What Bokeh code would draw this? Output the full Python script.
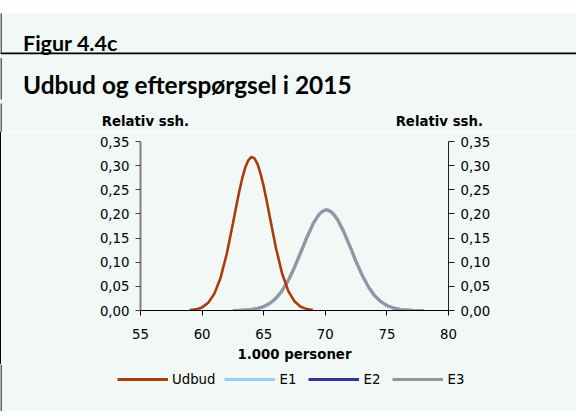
from bokeh.plotting import figure
from bokeh.layouts import column, row
from bokeh.models import (Range1d, LinearAxis, FixedTicker, CustomJSTickFormatter,
                          Legend, LegendItem, Div)
from bokeh.core.properties import value
from bokeh.embed import file_html
from bokeh.resources import INLINE

# ---- data ----
x_udbud = [59.0, 59.5, 60.0, 60.5, 61.0, 61.5, 62.0, 62.5, 62.75, 63.0, 63.25, 63.5,
           63.75, 64.0, 64.25, 64.5, 64.75, 65.0, 65.25, 65.5, 66.0, 66.5, 67.0,
           67.5, 68.0, 68.5, 69.0]
udbud = [0.0007, 0.0023, 0.0064, 0.016, 0.035, 0.068, 0.117, 0.180, 0.213, 0.245, 0.273, 0.296,
         0.311, 0.318, 0.315, 0.303, 0.283, 0.257, 0.226, 0.193, 0.129, 0.076, 0.040,
         0.019, 0.0078, 0.0029, 0.001]

x_eft = [62.5, 63.0, 63.5, 64.0, 64.5, 65.0, 65.5, 66.0, 66.5, 67.0, 67.5, 68.0,
         68.5, 69.0, 69.25, 69.5, 69.75, 70.0, 70.25, 70.5, 70.75, 71.0, 71.5, 72.0,
         72.5, 73.0, 73.5, 74.0, 74.5, 75.0, 75.5, 76.0, 76.5, 77.0, 77.5, 78.0]
e1 = [0.0002, 0.0004, 0.0009, 0.0020, 0.0041, 0.0081, 0.0148, 0.0254, 0.0412, 0.0626, 0.0894, 0.120,
      0.151, 0.179, 0.190, 0.199, 0.205, 0.208, 0.2074, 0.204, 0.197, 0.188, 0.163, 0.133,
      0.101, 0.0727, 0.049, 0.031, 0.0185, 0.0103, 0.0054, 0.0027, 0.0012, 0.0005, 0.0002, 0.0001]
e2 = [0.0002, 0.0004, 0.0009, 0.0020, 0.0041, 0.0081, 0.0148, 0.0254, 0.0412, 0.0626, 0.0894, 0.120,
      0.151, 0.179, 0.190, 0.199, 0.205, 0.208, 0.2074, 0.204, 0.197, 0.188, 0.163, 0.133,
      0.101, 0.0727, 0.049, 0.031, 0.0185, 0.0103, 0.0054, 0.0027, 0.0012, 0.0005, 0.0002, 0.0001]
e3 = [0.0002, 0.0004, 0.0009, 0.0020, 0.0041, 0.0081, 0.0148, 0.0254, 0.0412, 0.0626, 0.0894, 0.120,
      0.151, 0.179, 0.190, 0.199, 0.205, 0.208, 0.2074, 0.204, 0.197, 0.188, 0.163, 0.133,
      0.101, 0.0727, 0.049, 0.031, 0.0185, 0.0103, 0.0054, 0.0027, 0.0012, 0.0005, 0.0002, 0.0001]

x_ticks = [55, 60, 65, 70, 75, 80]
y_ticks = [0.0, 0.05, 0.10, 0.15, 0.20, 0.25, 0.30, 0.35]

series_names = ["Udbud", "E1", "E2", "E3"]
series_colors = ["#aa3c0c", "#99ccff", "#333399", "#969696"]

fig_title = "Figur 4.4c"
chart_title = "Udbud og efterspørgsel i 2015"
y_title = "Relativ ssh."
x_title = "1.000 personer"

# ---- styling ----
BG = "#f1f8f5"
TICK_FONT = "DejaVu Sans"
TITLE_FONT = "Lato"
FS = "13.3px"
W = 576
H_HEAD = 132
H_CHART = 232
H_FOOT = 411 - H_HEAD - H_CHART


def blank(width, height, bg):
    f = figure(width=width, height=height, x_range=Range1d(0, width), y_range=Range1d(height, 0),
               output_backend="svg", toolbar_location=None, min_border=0,
               x_axis_location=None, y_axis_location=None,
               background_fill_color=bg, border_fill_color=bg, outline_line_color=None)
    f.grid.visible = False
    return f


# ---- header (titles, rules, axis captions) ----
head = blank(W, H_HEAD, BG)
head.quad(left=[0], right=[W], top=[0], bottom=[12.7], fill_color="white", line_color=None)
head.segment(x0=[0], y0=[52.8], x1=[W], y1=[52.8], line_color="black", line_width=1.7)
head.segment(x0=[0.5, 0.5, 0.5], y0=[12.7, 57.5, 103], x1=[0.5, 0.5, 0.5], y1=[53, 99, H_HEAD],
             line_color="black", line_width=1.2)
head.text(x=[22.5], y=[42.5], text=[fig_title], text_font=value(TITLE_FONT),
          text_font_size="21.5px", text_font_style="bold", text_color="black",
          text_baseline="alphabetic", text_align="left")
head.text(x=[22.5], y=[83.5], text=[chart_title], text_font=value(TITLE_FONT),
          text_font_size="24.4px", text_font_style="bold", text_color="black",
          text_baseline="alphabetic", text_align="left")
head.text(x=[144.9, 438.8], y=[121, 121], text=[y_title, y_title], text_font=value(TICK_FONT),
          text_font_size=FS, text_font_style="bold", text_color="black",
          text_baseline="middle", text_align="center")

# ---- left border strip next to chart ----
strip = Div(text="", width=1, height=H_CHART,
            styles={"background-color": "black", "margin": "0", "padding": "0"})

# ---- chart ----
p = figure(width=W - 1, height=H_CHART, x_range=Range1d(55, 80), y_range=Range1d(0, 0.35),
           output_backend="svg", toolbar_location=None,
           min_border_left=139, min_border_right=128, min_border_top=9, min_border_bottom=54,
           background_fill_color=BG, border_fill_color=BG, outline_line_color=None)
p.grid.visible = False

fmt = CustomJSTickFormatter(code="return tick.toFixed(2).replace('.', ',');")

ya = p.yaxis[0]
ya.ticker = FixedTicker(ticks=y_ticks)
ya.formatter = fmt
ya.axis_line_color = "#808080"
ya.axis_line_width = 2
ya.major_tick_line_color = "#404040"
ya.major_tick_in = 0
ya.major_tick_out = 5
ya.minor_tick_line_color = None
ya.major_label_text_font = TICK_FONT
ya.major_label_text_font_size = FS
ya.major_label_text_color = "black"
ya.major_label_standoff = 6

ra = LinearAxis(ticker=FixedTicker(ticks=y_ticks), formatter=fmt)
ra.axis_line_color = "#202020"
ra.major_tick_line_color = "#202020"
ra.major_tick_in = 0
ra.major_tick_out = 6
ra.minor_tick_line_color = None
ra.major_label_text_font = TICK_FONT
ra.major_label_text_font_size = FS
ra.major_label_text_color = "black"
ra.major_label_standoff = 6
p.add_layout(ra, "right")

xa = p.xaxis[0]
xa.ticker = FixedTicker(ticks=x_ticks)
xa.axis_line_color = "black"
xa.major_tick_line_color = "black"
xa.major_tick_in = 0
xa.major_tick_out = 5
xa.minor_tick_line_color = None
xa.major_label_text_font = TICK_FONT
xa.major_label_text_font_size = FS
xa.major_label_text_color = "black"
xa.major_label_standoff = 13
xa.axis_label = x_title
xa.axis_label_text_font = TICK_FONT
xa.axis_label_text_font_size = FS
xa.axis_label_text_font_style = "bold"
xa.axis_label_text_color = "black"
xa.axis_label_standoff = 5

p.line(x_eft, e2, line_color=series_colors[2], line_width=3)
p.line(x_eft, e1, line_color=series_colors[1], line_width=3)
p.line(x_eft, e3, line_color=series_colors[3], line_width=2.6)
p.line(x_udbud, udbud, line_color=series_colors[0], line_width=2.6)

# ---- footer with legend (key glyphs sit off-canvas, only the legend shows them) ----
foot = blank(W, H_FOOT, BG)
foot.segment(x0=[0.5], y0=[0], x1=[0.5], y1=[H_FOOT], line_color="black", line_width=1.2)
keys = [foot.line(x=[-50, -40], y=[-50, -50], line_color=c, line_width=3) for c in series_colors]
legend = Legend(items=[LegendItem(label=n, renderers=[k]) for n, k in zip(series_names, keys)],
                orientation="horizontal", location=(117, 22),
                glyph_width=51, glyph_height=20, label_standoff=4, spacing=9,
                padding=0, margin=0, border_line_color=None, background_fill_alpha=0,
                label_text_font=TICK_FONT, label_text_font_size=FS, label_text_color="black")
foot.add_layout(legend)

layout = column(head, row(strip, p, spacing=0), foot, spacing=0)

open("out.html", "w").write(file_html(layout, INLINE))
